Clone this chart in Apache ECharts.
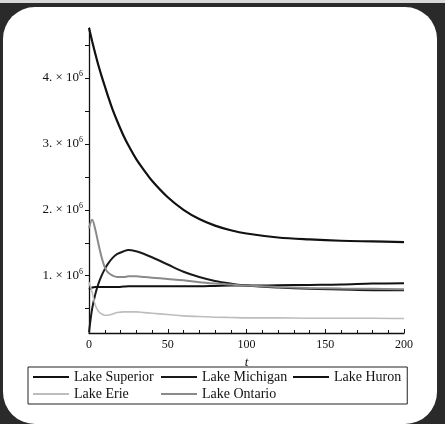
<!DOCTYPE html>
<html>
<head>
<meta charset="utf-8">
<script src="https://cdn.jsdelivr.net/npm/echarts@6/dist/echarts.min.js"></script>
<style>
html,body{margin:0;padding:0;width:445px;height:424px;overflow:hidden;background:#2a2a2a;}
#frame{position:absolute;left:3px;top:7px;width:434px;height:417px;background:#fff;border-radius:32px;}
#topband{position:absolute;left:0;top:0;width:445px;height:3px;background:#d8d8d8;}
#chart{position:absolute;left:0;top:0;width:445px;height:424px;}
</style>
</head>
<body>
<div id="topband"></div>
<div id="frame"></div>
<div id="chart"></div>
<script>
// time values (t)
const tValues = [0, 2, 4, 6, 8, 10, 12, 15, 18, 22, 25, 30, 35, 40, 50, 60, 70, 80, 90, 100, 120, 140, 160, 180, 200];
// series values, in units of 10^6
const lakeSuperior = [4.76, 4.56, 4.37, 4.19, 4.03, 3.88, 3.73, 3.52, 3.34, 3.12, 2.98, 2.77, 2.60, 2.44, 2.19, 2.00, 1.86, 1.76, 1.69, 1.64, 1.58, 1.55, 1.53, 1.52, 1.51];
const lakeMichigan = [0.14, 0.50, 0.72, 0.88, 1.00, 1.10, 1.18, 1.27, 1.33, 1.37, 1.39, 1.37, 1.33, 1.28, 1.17, 1.06, 0.98, 0.92, 0.88, 0.85, 0.82, 0.80, 0.79, 0.78, 0.78];
const lakeHuron = [0.79, 0.82, 0.83, 0.83, 0.83, 0.83, 0.83, 0.83, 0.83, 0.835, 0.84, 0.84, 0.84, 0.84, 0.84, 0.84, 0.84, 0.845, 0.85, 0.85, 0.855, 0.86, 0.865, 0.88, 0.885];
const lakeErie = [0.90, 0.75, 0.55, 0.46, 0.42, 0.40, 0.40, 0.42, 0.44, 0.45, 0.45, 0.45, 0.44, 0.43, 0.41, 0.39, 0.38, 0.37, 0.365, 0.36, 0.36, 0.355, 0.355, 0.355, 0.35];
const lakeOntario = [1.72, 1.85, 1.70, 1.48, 1.28, 1.13, 1.05, 1.00, 0.98, 0.98, 0.99, 0.99, 0.98, 0.97, 0.95, 0.93, 0.90, 0.88, 0.865, 0.85, 0.83, 0.815, 0.805, 0.80, 0.795];
// axis ticks
const yLabelValues = [1, 2, 3, 4];
const yTickValues = [0.5, 1, 1.5, 2, 2.5, 3, 3.5, 4, 4.5];
const xLabelValues = [0, 50, 100, 150, 200];

const FONT = '"Liberation Serif", "DejaVu Serif", serif';

function pairs(arr) { return tValues.map((t, i) => [t, arr[i]]); }

function mkSeries(name, arr, color, width) {
  return {
    name: name, type: 'line', data: pairs(arr), showSymbol: false, symbol: 'none',
    smooth: 0.35, lineStyle: { color: color, width: width }, itemStyle: { color: color },
    emphasis: { disabled: true }, animation: false
  };
}

const chart = echarts.init(document.getElementById('chart'), null, { renderer: 'canvas' });
chart.setOption({
  backgroundColor: 'transparent',
  animation: false,
  grid: { left: 89, right: 41, top: 28, bottom: 91, containLabel: false, outerBoundsMode: 'none' },
  xAxis: {
    type: 'value', min: 0, max: 200, interval: 50,
    name: 't', nameLocation: 'middle', nameGap: 20,
    nameTextStyle: { fontFamily: FONT, fontStyle: 'italic', fontSize: 13, color: '#111' },
    axisLine: { show: true, onZero: false, lineStyle: { color: '#111', width: 1.3 } },
    axisTick: { show: true, inside: true, length: 4, lineStyle: { color: '#111' } },
    minorTick: { show: true, splitNumber: 5, length: 3, lineStyle: { color: '#111' } },
    axisLabel: { fontFamily: FONT, fontSize: 12, color: '#111', margin: 6, customValues: xLabelValues },
    splitLine: { show: false }
  },
  yAxis: {
    type: 'value', min: 0.13, max: 4.76,
    axisLine: { show: true, onZero: false, lineStyle: { color: '#111', width: 1.3 } },
    axisTick: { show: true, inside: false, length: 4, customValues: yTickValues, lineStyle: { color: '#111' } },
    axisLabel: {
      customValues: yLabelValues, margin: 6,
      formatter: function (v) { return '{b|' + v + '. × 10}{s|6}'; },
      rich: {
        b: { fontFamily: FONT, fontSize: 13, color: '#111' },
        s: { fontFamily: FONT, fontSize: 8, color: '#111', padding: [0, 0, 8, 0] }
      }
    },
    splitLine: { show: false }
  },
  legend: {
    left: 28, top: 367, width: 375,
    orient: 'horizontal',
    icon: 'rect',
    itemWidth: 36, itemHeight: 2, itemGap: 3,
    padding: [3, 6, 3, 5],
    borderColor: '#222', borderWidth: 1,
    textStyle: { fontFamily: FONT, fontSize: 14, color: '#111', lineHeight: 14 },
    data: [
      { name: 'Lake Superior', textStyle: { width: 84 } },
      { name: 'Lake Michigan', textStyle: { width: 88 } },
      { name: 'Lake Huron' },
      { name: 'Lake Erie', textStyle: { width: 84 } },
      { name: 'Lake Ontario', textStyle: { width: 88 } }
    ]
  },
  series: [
    mkSeries('Lake Superior', lakeSuperior, '#111', 2.2),
    mkSeries('Lake Michigan', lakeMichigan, '#1a1a1a', 2),
    mkSeries('Lake Huron', lakeHuron, '#111', 2),
    mkSeries('Lake Erie', lakeErie, '#bdbdbd', 1.6),
    mkSeries('Lake Ontario', lakeOntario, '#8a8a8a', 2)
  ]
});
</script>
</body>
</html>
